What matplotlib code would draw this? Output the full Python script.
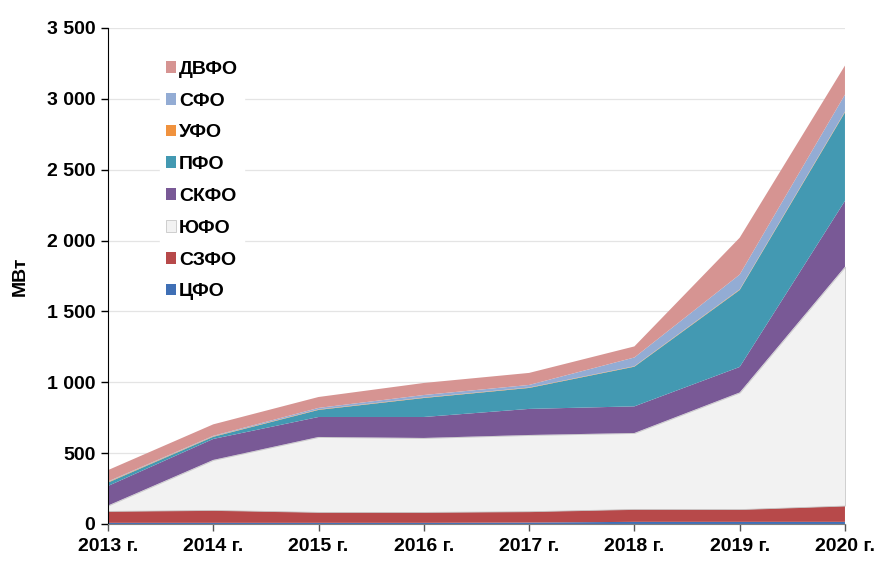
import numpy as np
import matplotlib
matplotlib.use('Agg')
from matplotlib import pyplot as plt
from matplotlib.ticker import FuncFormatter

plt.rcParams['font.family'] = ['Liberation Sans', 'DejaVu Sans']
plt.rcParams['font.weight'] = 'bold'

# data, MW by federal district ================================================
years = ['2013 г.', '2014 г.', '2015 г.', '2016 г.', '2017 г.', '2018 г.', '2019 г.', '2020 г.']
cfo = [8, 8, 8, 8, 10, 15, 15, 15]
szfo = [84, 91, 77, 77, 80, 91, 90, 115]
yufo = [38, 353, 529, 522, 538, 536, 823, 1685]
skfo = [138, 148, 141, 148, 184, 188, 180, 465]
pfo = [24, 15, 50, 134, 148, 280, 543, 625]
ufo = [4, 3, 3, 3, 3, 3, 4, 5]
sfo = [4, 4, 11, 18, 18, 62, 105, 120]
dvfo = [80, 81, 77, 85, 85, 78, 260, 205]

labels = ['ЦФО', 'СЗФО', 'ЮФО', 'СКФО', 'ПФО', 'УФО', 'СФО', 'ДВФО']
colors = ['#3f6fb5', '#b7494a', '#f2f2f2', '#795996', '#4399b2',
          '#f0923e', '#93acd4', '#d69492']

# =============================================================================
fig = plt.figure(figsize=(8.9, 5.77), dpi=100)
ax = fig.add_axes([0.1213, 0.0919, 0.8281, 0.8596])

x = np.arange(len(years))
polys = ax.stackplot(x, cfo, szfo, yufo, skfo, pfo, ufo, sfo, dvfo,
                     colors=colors, labels=labels, linewidth=0)
polys[2].set_edgecolor('#c8c8c8')
polys[2].set_linewidth(0.6)

ax.set_xlim(0, len(years) - 1)
ax.set_ylim(0, 3500)
ax.set_yticks(np.arange(0, 3501, 500))
ax.yaxis.set_major_formatter(
    FuncFormatter(lambda v, p: f'{int(v):,}'.replace(',', ' ')))
ax.set_xticks(x)
ax.set_xticklabels(years)

ax.grid(axis='y', color='#e4e4e4', linewidth=0.9, zorder=0)
ax.set_axisbelow(True)
for s in ['top', 'right']:
    ax.spines[s].set_visible(False)
ax.spines['left'].set_color('black')
ax.spines['bottom'].set_color('#808080')
ax.tick_params(axis='both', labelsize=14, direction='out', length=5,
               width=1, pad=4)
ax.tick_params(axis='x', colors='#555555', labelcolor='black', pad=5)
ax.set_ylabel('МВт', fontsize=14, fontweight='bold', labelpad=13)

handles, lbls = ax.get_legend_handles_labels()
leg = ax.legend(handles[::-1], lbls[::-1], loc='upper left',
                bbox_to_anchor=(0.057, 0.965), fontsize=14,
                handlelength=0.55, handleheight=0.55, handletextpad=0.15,
                labelspacing=0.76, frameon=True, fancybox=False,
                borderpad=0.3)
leg.get_frame().set_edgecolor('white')
leg.get_frame().set_facecolor('white')
leg.get_frame().set_alpha(1)
for t in leg.get_texts():
    t.set_fontweight('bold')

fig.savefig('out.png', dpi=100)
